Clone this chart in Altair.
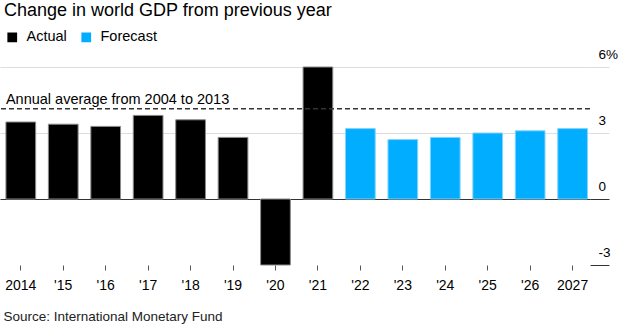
import altair as alt
import pandas as pd

# ---- data ----
years = ["2014", "'15", "'16", "'17", "'18", "'19", "'20", "'21",
         "'22", "'23", "'24", "'25", "'26", "2027"]
growth = [3.5, 3.4, 3.3, 3.8, 3.6, 2.8, -3.0, 6.0,
          3.2, 2.7, 2.8, 3.0, 3.1, 3.2]
kind = ["Actual"] * 8 + ["Forecast"] * 6
series_names = ["Actual", "Forecast"]
series_colors = ["#000000", "#00adfe"]
series_strokes = ["#8a8a8a", "#80d4ff"]
avg_label = ["Annual average from 2004 to 2013"]
avg_value = [4.1]
y_ticks = [-3, 0, 3, 6]

df = pd.DataFrame({"year": years, "growth": growth, "kind": kind})
avg = pd.DataFrame({"label": avg_label, "value": avg_value, "year": [years[0]]})

FONT = "Liberation Sans"

x_scale = alt.Scale(paddingInner=0.3, paddingOuter=0.1, align=0.7)
y_scale = alt.Scale(domain=[-3, 6], nice=False)

x_enc = alt.X(
    "year:N", sort=years, scale=x_scale,
    axis=alt.Axis(
        title="Source: International Monetary Fund",
        domain=False, ticks=True, tickSize=5, tickColor="#555555",
        labelFontSize=14, labelFont=FONT, labelColor="#000000",
        labelPadding=8, labelAngle=0, grid=False,
        titleFont=FONT, titleFontSize=13.5, titleFontWeight="normal",
        titleColor="#222222", titleAnchor="start", titleAlign="left",
        titleBaseline="alphabetic", titleX=3, titleY=55,
    ),
)

y_enc = alt.Y(
    "growth:Q", scale=y_scale,
    axis=alt.Axis(
        orient="right", values=y_ticks, title=None, domain=False,
        ticks=True, tickSize=19,
        tickColor={"condition": {"test": "datum.value <= 0", "value": "#333333"}, "value": "#dddddd"},
        grid=True,
        gridColor={"condition": {"test": "datum.value === 0", "value": "#333333"}, "value": "#dddddd"},
        gridOpacity={"condition": {"test": "datum.value === -3", "value": 0}, "value": 1},
        labelExpr="datum.value == 6 ? '6%' : '' + datum.value",
        labelAlign="left", labelBaseline="alphabetic", labelOffset=-9,
        labelPadding=-11, labelFontSize=13.5, labelFont=FONT,
        labelColor="#000000", labelFlush=False,
    ),
)

bars = alt.Chart(df).mark_bar(strokeWidth=1).encode(
    x=x_enc,
    y=y_enc,
    color=alt.Color(
        "kind:N",
        scale=alt.Scale(domain=series_names, range=series_colors),
        legend=alt.Legend(
            title=None, orient="none", legendX=5, legendY=-37,
            direction="horizontal", symbolType="square", symbolSize=95,
            symbolStrokeWidth=0, labelFontSize=14.5, labelFont=FONT,
            labelColor="#000000", labelOffset=7, columnPadding=12, padding=0,
        ),
    ),
    stroke=alt.Stroke(
        "kind:N",
        scale=alt.Scale(domain=series_names, range=series_strokes),
        legend=None,
    ),
)

rule = alt.Chart(avg).mark_rule(strokeDash=[5, 3], color="#333333", strokeWidth=1.5).encode(
    y=alt.Y("value:Q", scale=y_scale)
)

text = alt.Chart(avg).mark_text(
    align="left", baseline="alphabetic", dy=-5, fontSize=14.5, font=FONT, color="#000000"
).encode(
    x=alt.X("year:N", sort=years, bandPosition=0),
    y=alt.Y("value:Q", scale=y_scale),
    text="label:N",
)

chart = alt.layer(bars, rule, text).properties(
    width=590,
    height=198,
    title=alt.TitleParams(
        "Change in world GDP from previous year",
        anchor="start", frame="group", fontSize=18, font=FONT,
        fontWeight="normal", color="#000000", baseline="alphabetic",
        offset=12, dx=4, dy=16,
    ),
    padding={"left": 0, "top": 67, "right": 38, "bottom": 63},
    autosize=alt.AutoSizeParams(type="none"),
).configure_view(stroke=None)

chart.save("out.html", embed_options={"renderer": "svg", "actions": False})
